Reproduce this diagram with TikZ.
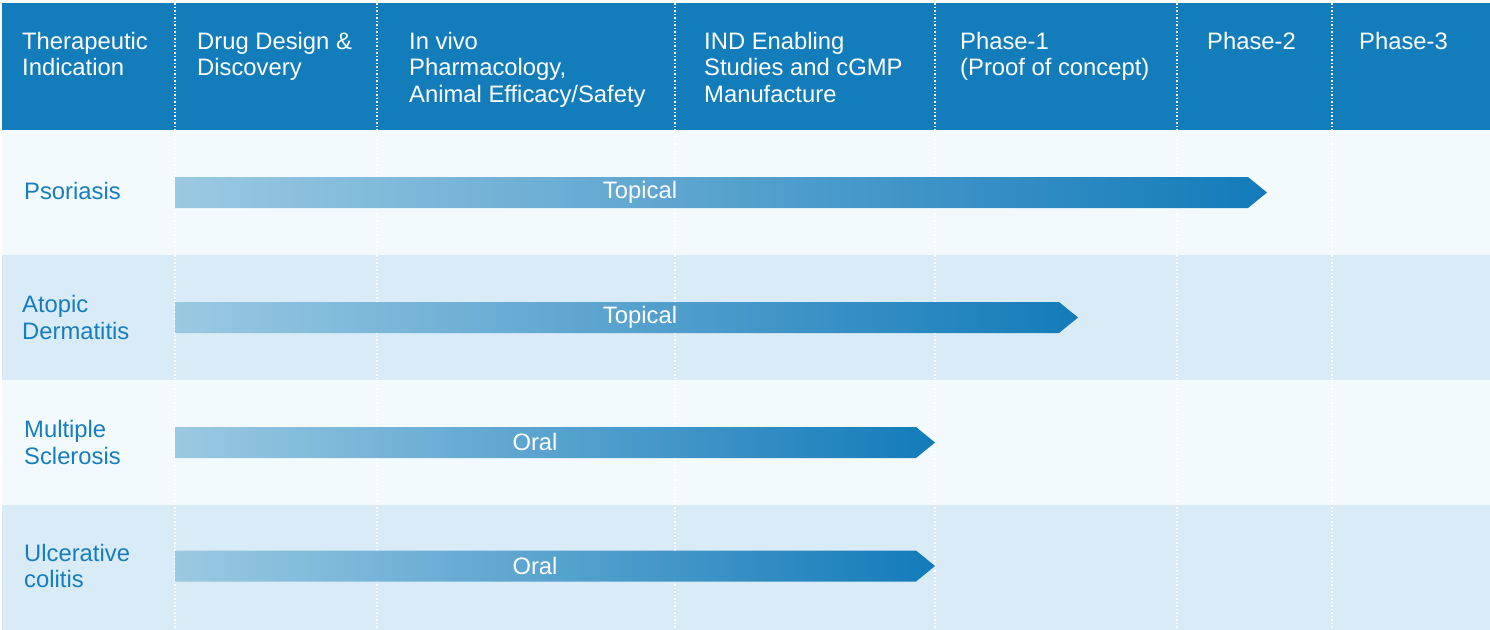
\documentclass[tikz,border=0pt]{standalone}
\usepackage{fontspec}
\setmainfont{Liberation Sans}
\usetikzlibrary{positioning}
\definecolor{headblue}{RGB}{19,125,187}
\definecolor{rowlight}{RGB}{242,250,253}
\definecolor{rowdark}{RGB}{217,235,246}
\definecolor{arrowlight}{RGB}{155,201,226}
\definecolor{arrowdark}{RGB}{19,123,186}
\definecolor{indblue}{RGB}{22,125,190}
\tikzset{
  headtext/.style={anchor=north west,inner sep=0pt,align=left,text=white},
  indtext/.style={anchor=west,inner sep=0pt,align=left,text=indblue},
  bartext/.style={inner sep=0pt,text=white},
  sepline/.style={white,dotted,line width=1.5pt}
}
\begin{document}
\begin{tikzpicture}[x=1pt,y=-1pt,font=\fontsize{23.8}{26.5}\selectfont]
  \useasboundingbox (0,0) rectangle (1490,629);
  \fill[white] (0,0) rectangle (1490,629);

  % header and rows
  \fill[headblue] (2,3) rectangle (1490,130);
  \foreach \top/\col in {130/rowlight,255/rowdark,380/rowlight,505/rowdark}
    \fill[\col] (2,\top) rectangle (1490,\top+125);

  % column separators
  \foreach \x in {175,377,675,935,1177,1332}
    \draw[sepline] (\x,3) -- (\x,629);

  % header labels
  \node[headtext] (hd1) at (22,32) {Therapeutic\\Indication};
  \node[headtext] (hd2) at (197,32) {Drug Design \&\\Discovery};
  \node[headtext] (hd3) at (409,32) {In vivo\\Pharmacology,\\Animal Efficacy/Safety};
  \node[headtext] (hd4) at (704,32) {IND Enabling\\Studies and cGMP\\Manufacture};
  \node[headtext] (hd5) at (960,32) {Phase-1\\(Proof of concept)};
  \node[headtext] (hd6) at (1207,32) {Phase-2};
  \node[headtext] (hd7) at (1359,32) {Phase-3};

  % indications
  \node[indtext] (ind1) at (24,191) {Psoriasis};
  \node[indtext] (ind2) at (22,317.5) {Atopic\\Dermatitis};
  \node[indtext] (ind3) at (24,442.5) {Multiple\\Sclerosis};
  \node[indtext] (ind4) at (24,566) {Ulcerative\\colitis};

  % progress bars
  \foreach \yc/\tip in {192.5/1267,317.5/1078,442.5/935,566/935}
    \shade[left color=arrowlight,right color=arrowdark]
      (175,\yc-15.5) -- (\tip-19,\yc-15.5) -- (\tip,\yc)
      -- (\tip-19,\yc+15.5) -- (175,\yc+15.5) -- cycle;

  \node[bartext] (bar1) at (640,192.5) {Topical};
  \node[bartext] (bar2) at (640,317.5) {Topical};
  \node[bartext] (bar3) at (535,442) {Oral};
  \node[bartext] (bar4) at (535,566) {Oral};
\end{tikzpicture}
\end{document}
